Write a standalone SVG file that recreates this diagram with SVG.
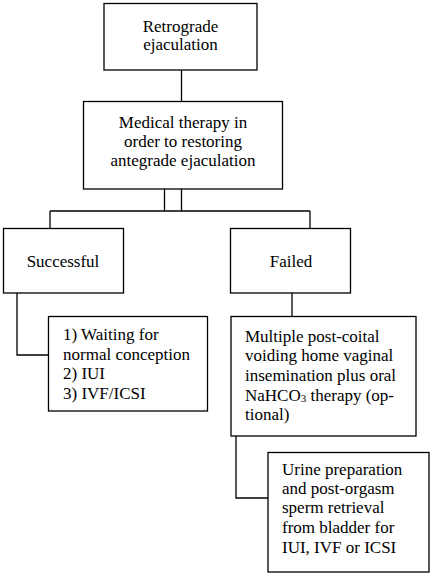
<svg xmlns="http://www.w3.org/2000/svg" width="432" height="578" viewBox="0 0 432 578">
<style>
rect.box{fill:#fff;stroke:#000;stroke-width:1.3}
.c path{fill:none;stroke:#000;stroke-width:1.3}
text{font-family:"Liberation Serif","Times New Roman",serif;font-size:17px;fill:#000}
.m{text-anchor:middle}
</style>
<rect width="432" height="578" fill="#fff"/>
<g class="c" id="connectors">
<path d="M181.5 70V101"/>
<path d="M164.5 189V211M181.5 189V211M50 211H310M50 211V228M310 211V228"/>
<path d="M17 293V355H48"/>
<path d="M292 293V316"/>
<path d="M236 436V498H268"/>
</g>
<g id="n1"><rect class="box" x="104" y="3.5" width="153" height="66.5"/>
<text class="m" x="180.5" y="32">Retrograde</text><text class="m" x="180.5" y="50">ejaculation</text></g>
<g id="n2"><rect class="box" x="83.5" y="101.5" width="199" height="87.5"/>
<text class="m" x="183" y="128">Medical therapy in</text><text class="m" x="183" y="147">order to restoring</text><text class="m" x="183" y="166">antegrade ejaculation</text></g>
<g id="n3"><rect class="box" x="3.5" y="228.5" width="120" height="64.5"/>
<text class="m" x="63" y="267">Successful</text></g>
<g id="n4"><rect class="box" x="230.5" y="228.5" width="120" height="64.5"/>
<text class="m" x="291" y="267">Failed</text></g>
<g id="n5"><rect class="box" x="48.5" y="316.5" width="159" height="94.5"/>
<text x="63" y="340">1) Waiting for</text><text x="63" y="360">normal conception</text><text x="63" y="379">2) IUI</text><text x="63" y="399">3) IVF/ICSI</text></g>
<g id="n6"><rect class="box" x="231" y="316.5" width="185" height="119.5"/>
<text x="245" y="342">Multiple post-coital</text><text x="245" y="361">voiding home vaginal</text><text x="245" y="381">insemination plus oral</text><text x="245" y="401">NaHCO<tspan font-size="11" dy="1">3</tspan><tspan dy="-1"> therapy (op-</tspan></text><text x="245" y="420">tional)</text></g>
<g id="n7"><rect class="box" x="268" y="452.5" width="161" height="119.5"/>
<text x="282" y="475">Urine preparation</text><text x="282" y="494">and post-orgasm</text><text x="282" y="513">sperm retrieval</text><text x="282" y="533">from bladder for</text><text x="282" y="553">IUI, IVF or ICSI</text></g>
</svg>
